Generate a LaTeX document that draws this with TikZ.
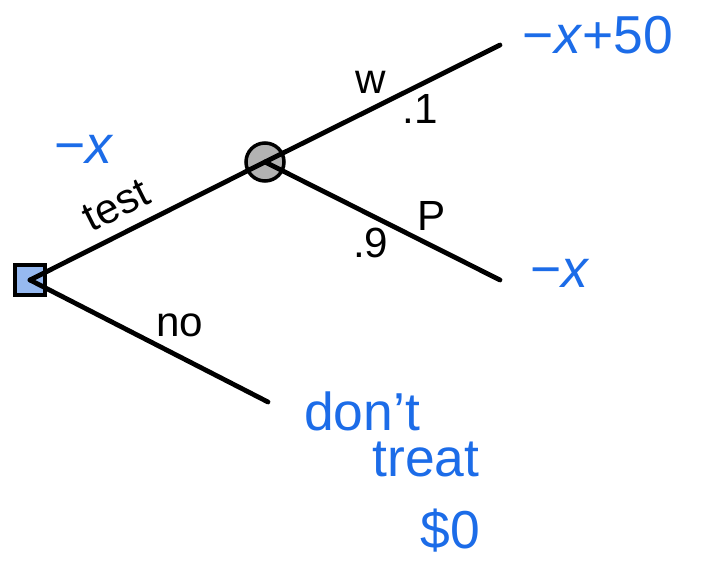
\documentclass[tikz,border=0pt]{standalone}
\usepackage{fontspec}
\setmainfont{Liberation Sans}
\usepackage{tikz}
\usetikzlibrary{positioning}
\definecolor{inkblue}{RGB}{28,108,232}
\definecolor{sqfill}{RGB}{150,185,240}
\tikzset{
    decisionbox/.style={rectangle,draw,line width=2.5pt,fill=sqfill,minimum size=0.75cm,inner sep=0pt},
    chancenode/.style={circle,draw,line width=2.5pt,fill=black!30,minimum size=0.95cm,inner sep=0pt},
    branchline/.style={line width=3.4pt,line cap=round},
    branchlabel/.style={font=\fontsize{30}{34}\selectfont},
    payoff/.style={text=inkblue,font=\fontsize{38}{44}\selectfont,align=left}
}
\begin{document}
\begin{tikzpicture}
    \useasboundingbox (0,0) rectangle (17.85,14.225);
        \node[decisionbox] (treat) at (0.75,7.225) {};
        \node[chancenode] (test) at (6.625,10.175) {};
        \coordinate (wend) at (12.5,13.1);
        \coordinate (pend) at (12.5,7.225);
        \coordinate (noend) at (6.7,4.175);
        \draw[branchline] (treat.center) -- node[branchlabel,above=5pt,sloped,pos=0.42]{test} (test.center);
        \draw[branchline] (test.center) -- node[branchlabel,above=6pt,pos=0.45]{w} node[branchlabel,below=2pt,pos=0.66]{.1} (wend);
        \draw[branchline] (test.center) -- node[branchlabel,above=6pt,pos=0.71]{P} node[branchlabel,below=4pt,pos=0.45]{.9} (pend);
        \draw[branchline] (treat.center) -- node[branchlabel,above=9pt,pos=0.63]{no} (noend);
        \node[payoff] (costtest) at (2.1,10.5) {−\textit{x}};
        \node[payoff] (wpay) at (14.95,13.35) {−\textit{x}+50};
        \node[payoff] (ppay) at (14.0,7.4) {−\textit{x}};
        \node[payoff] (dontnode) at (9.05,3.95) {don't};
        \node[payoff] (treatnode) at (10.65,2.75) {treat};
        \node[payoff] (zeronode) at (11.25,0.95) {\$0};
\end{tikzpicture}
\end{document}
